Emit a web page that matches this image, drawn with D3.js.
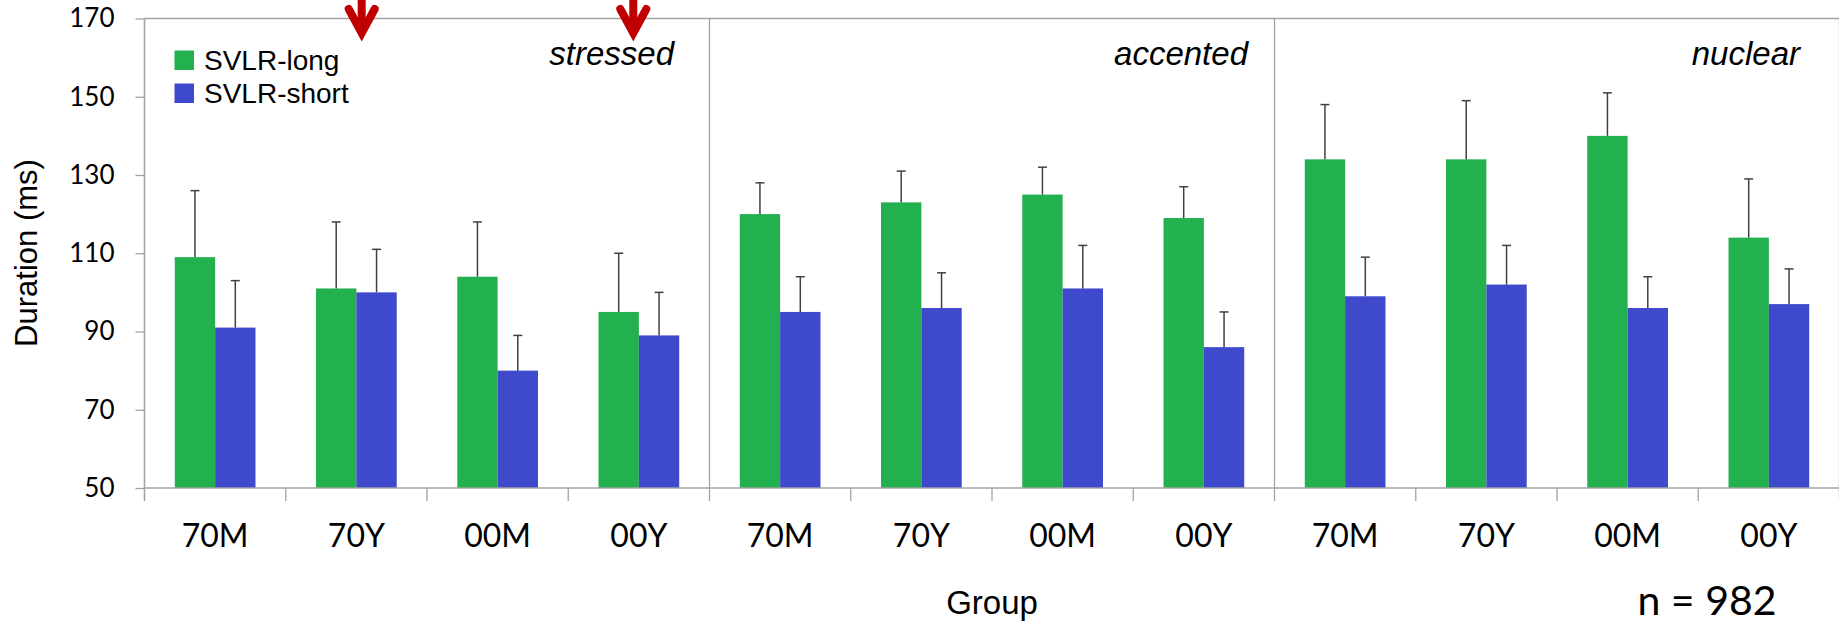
<!DOCTYPE html>
<html>
<head>
<meta charset="utf-8">
<script src="https://cdn.jsdelivr.net/npm/d3@7"></script>
<style>
  html, body { margin: 0; padding: 0; background: #fff; }
  svg { display: block; }
</style>
</head>
<body>
<svg id="chart" width="1839" height="626"></svg>
<script>
(function () {
// ---- data ----
const panels = ["stressed", "accented", "nuclear"];
const groups = ["70M", "70Y", "00M", "00Y"];
const seriesNames = ["SVLR-long", "SVLR-short"];
const longVals  = [109, 101, 104, 95,  120, 123, 125, 119,  134, 134, 140, 114];
const longErr   = [17, 17, 14, 15,     8, 8, 7, 8,          14, 15, 11, 15];
const shortVals = [91, 100, 80, 89,    95, 96, 101, 86,     99, 102, 96, 97];
const shortErr  = [12, 11, 9, 11,      9, 9, 11, 9,         10, 10, 8, 9];
const yTicks = [50, 70, 90, 110, 130, 150, 170];
const xTitle = "Group";
const yTitle = "Duration (ms)";
const note = "n = 982";

// ---- layout ----
const colors = { "SVLR-long": "#23b04e", "SVLR-short": "#3f49cb" };
const axisColor = "#a3a3a3";
const pLeft = 144.5, pRight = 1839.5, pTop = 18.5, pBottom = 488;

const svg = d3.select("#chart");

const slots = [];
panels.forEach(p => groups.forEach(g => slots.push(p + "|" + g)));

const x = d3.scaleBand().domain(slots).range([pLeft, pRight]).paddingInner(0).paddingOuter(0);
const xInner = d3.scaleBand().domain(seriesNames).range([0, x.step()]).paddingInner(0).paddingOuter(0.75);
const y = d3.scaleLinear().domain([50, 170]).range([pBottom, pTop]);

const rows = slots.map((s, i) => ({
  key: s,
  values: [
    { name: "SVLR-long", v: longVals[i], e: longErr[i] },
    { name: "SVLR-short", v: shortVals[i], e: shortErr[i] }
  ]
}));

// top border
svg.append("line").attr("x1", pLeft).attr("x2", pRight).attr("y1", pTop).attr("y2", pTop)
  .attr("stroke", axisColor).attr("stroke-width", 1.3);

// slot boundary ticks and panel separators
const boundaries = d3.range(slots.length + 1).map(i => pLeft + i * x.step());
boundaries.forEach((bx, i) => {
  const isSep = (i % groups.length === 0);
  svg.append("line")
    .attr("x1", bx).attr("x2", bx)
    .attr("y1", isSep ? pTop : pBottom).attr("y2", pBottom + 13)
    .attr("stroke", axisColor).attr("stroke-width", 1.3);
});

// bars
const gSlots = svg.append("g").selectAll("g").data(rows).join("g")
  .attr("transform", d => `translate(${x(d.key)},0)`);

gSlots.selectAll("rect").data(d => d.values).join("rect")
  .attr("x", d => xInner(d.name))
  .attr("width", xInner.bandwidth())
  .attr("y", d => y(d.v))
  .attr("height", d => y(50) - y(d.v))
  .attr("fill", d => colors[d.name]);

// error bars (upper only)
const eb = gSlots.selectAll("g.err").data(d => d.values).join("g").attr("class", "err");
eb.append("line")
  .attr("x1", d => xInner(d.name) + xInner.bandwidth() / 2)
  .attr("x2", d => xInner(d.name) + xInner.bandwidth() / 2)
  .attr("y1", d => y(d.v)).attr("y2", d => y(d.v + d.e))
  .attr("stroke", "#404040").attr("stroke-width", 1.5);
eb.append("line")
  .attr("x1", d => xInner(d.name) + xInner.bandwidth() / 2 - 4.5)
  .attr("x2", d => xInner(d.name) + xInner.bandwidth() / 2 + 4.5)
  .attr("y1", d => y(d.v + d.e)).attr("y2", d => y(d.v + d.e))
  .attr("stroke", "#404040").attr("stroke-width", 1.5);

// y axis
const yAxis = svg.append("g").attr("transform", `translate(${pLeft},0)`)
  .call(d3.axisLeft(y).tickValues(yTicks).tickSize(9).tickPadding(21).tickFormat(d3.format("d")));
yAxis.select(".domain").remove();
yAxis.append("line").attr("x1", 0).attr("x2", 0).attr("y1", pTop).attr("y2", pBottom + 13)
  .attr("stroke", axisColor).attr("stroke-width", 1.3);
yAxis.selectAll(".tick line").attr("stroke", axisColor).attr("stroke-width", 1.3);
yAxis.selectAll(".tick text").attr("font-family", "Lato, sans-serif").attr("font-size", 26)
  .attr("fill", "#000");

// x axis line
svg.append("line").attr("x1", pLeft).attr("x2", pRight).attr("y1", pBottom).attr("y2", pBottom)
  .attr("stroke", axisColor).attr("stroke-width", 1.3);

// category labels
const xAxis = svg.append("g").attr("transform", `translate(0,${pBottom})`)
  .call(d3.axisBottom(x).tickSize(0).tickPadding(0).tickFormat(d => d.split("|")[1]));
xAxis.select(".domain").remove();
xAxis.selectAll(".tick text")
  .attr("dy", null).attr("y", 58.5)
  .attr("font-family", "Lato, sans-serif").attr("font-size", 32).attr("fill", "#000");

// panel labels
const panelRight = [674, 1248, 1800];
panels.forEach((p, i) => {
  svg.append("text").attr("x", panelRight[i]).attr("y", 65)
    .attr("text-anchor", "end")
    .attr("font-family", "'Liberation Sans', Arial, sans-serif")
    .attr("font-style", "italic").attr("font-size", 33).attr("fill", "#000")
    .text(p);
});

// legend
seriesNames.forEach((s, i) => {
  const ly = 50.5 + i * 33;
  svg.append("rect").attr("x", 174.5).attr("y", ly).attr("width", 19.5).attr("height", 19.5)
    .attr("fill", colors[s]);
  svg.append("text").attr("x", 204).attr("y", ly + 19.3)
    .attr("font-family", "'Liberation Sans', Arial, sans-serif")
    .attr("font-size", 28).attr("fill", "#000").text(s);
});

// axis titles
svg.append("text").attr("x", 992).attr("y", 614).attr("text-anchor", "middle")
  .attr("font-family", "'Liberation Sans', Arial, sans-serif").attr("font-size", 33)
  .attr("fill", "#000").text(xTitle);
svg.append("text").attr("transform", "translate(36.5,253) rotate(-90)").attr("text-anchor", "middle")
  .attr("font-family", "'Liberation Sans', Arial, sans-serif").attr("font-size", 31)
  .attr("fill", "#000").text(yTitle);

// n note
svg.append("text").attr("x", 1707).attr("y", 615).attr("text-anchor", "middle")
  .attr("font-family", "Lato, sans-serif").attr("font-size", 41)
  .attr("fill", "#000").text(note);

// red annotation arrows (pointing at the stressed panel)
const arrowX = [361.7, 633.3];
arrowX.forEach(ax => {
  const ga = svg.append("g").attr("stroke", "#c00000").attr("stroke-width", 8)
    .attr("fill", "none").attr("stroke-linecap", "round").attr("stroke-linejoin", "miter");
  ga.append("line").attr("x1", ax).attr("x2", ax).attr("y1", -4).attr("y2", 32);
  ga.append("path").attr("d", `M${ax - 13},${9} L${ax},${33} L${ax + 13},${9}`);
});
})();
</script>
</body>
</html>
